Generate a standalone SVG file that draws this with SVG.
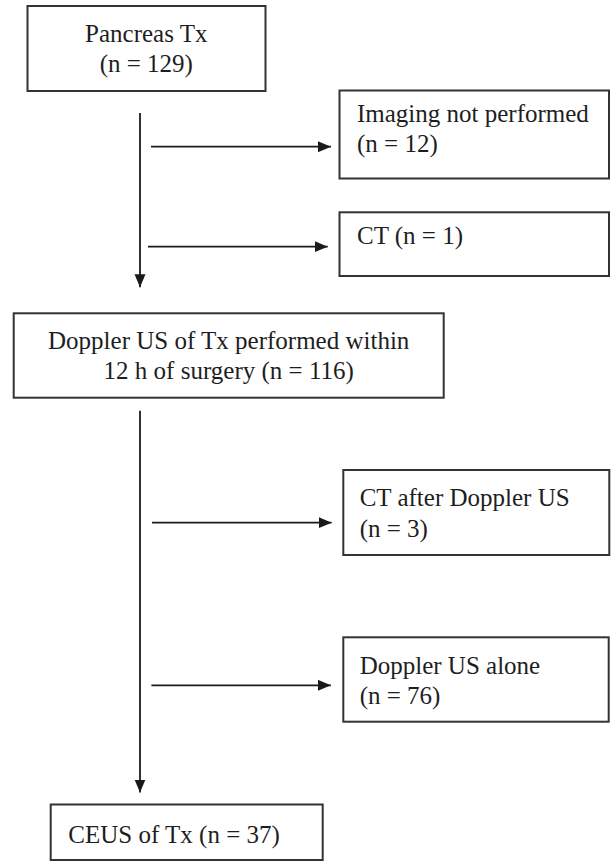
<svg xmlns="http://www.w3.org/2000/svg" width="611" height="861" viewBox="0 0 611 861">
  <style>
    .box { fill: #ffffff; stroke: #333333; stroke-width: 2; }
    .lbl { font-family: "Liberation Serif", "Times New Roman", serif; font-size: 25px; fill: #1e1e1e; }
    .mid { text-anchor: middle; }
    .conn { stroke: #1a1a1a; stroke-width: 1.8; fill: none; marker-end: url(#arrow); }
  </style>
  <defs>
    <marker id="arrow" markerUnits="userSpaceOnUse" markerWidth="14" markerHeight="12" refX="13" refY="5.5" orient="auto">
      <path d="M0,0 L13,5.5 L0,11 Z" fill="#1a1a1a"/>
    </marker>
  </defs>
  <rect x="0" y="0" width="611" height="861" fill="#ffffff"/>

  <g id="pancreas-tx">
    <rect class="box" x="27.5" y="6" width="238" height="85"/>
    <text class="lbl mid" x="146.3" y="41.7">Pancreas Tx</text>
    <text class="lbl mid" x="146.3" y="71.7">(n = 129)</text>
  </g>

  <g id="imaging-not-performed">
    <rect class="box" x="339.5" y="90.5" width="269.5" height="88"/>
    <text class="lbl" x="357" y="121.7">Imaging not performed</text>
    <text class="lbl" x="357" y="151.7">(n = 12)</text>
  </g>

  <g id="ct">
    <rect class="box" x="339.5" y="212.3" width="269.5" height="63.7"/>
    <text class="lbl" x="357" y="244">CT (n = 1)</text>
  </g>

  <g id="doppler-us">
    <rect class="box" x="13.7" y="313.3" width="430" height="84.4"/>
    <text class="lbl mid" x="228.7" y="349.3">Doppler US of Tx performed within</text>
    <text class="lbl mid" x="228.7" y="379.3">12 h of surgery (n = 116)</text>
  </g>

  <g id="ct-after-doppler">
    <rect class="box" x="343.3" y="470" width="266" height="85"/>
    <text class="lbl" x="359.7" y="506">CT after Doppler US</text>
    <text class="lbl" x="359.7" y="536.7">(n = 3)</text>
  </g>

  <g id="doppler-alone">
    <rect class="box" x="343.3" y="637.3" width="265.4" height="84.4"/>
    <text class="lbl" x="359.7" y="674">Doppler US alone</text>
    <text class="lbl" x="359.7" y="704">(n = 76)</text>
  </g>

  <g id="ceus">
    <rect class="box" x="50.7" y="804.5" width="272" height="55.5"/>
    <text class="lbl" x="68.3" y="843.3">CEUS of Tx (n = 37)</text>
  </g>

  <g id="connectors">
    <line class="conn" x1="140" y1="113" x2="140" y2="287.3"/>
    <line class="conn" x1="151" y1="146.7" x2="331" y2="146.7"/>
    <line class="conn" x1="148" y1="246.7" x2="327.7" y2="246.7"/>
    <line class="conn" x1="140" y1="410.7" x2="140" y2="792.5"/>
    <line class="conn" x1="152" y1="522.7" x2="331.6" y2="522.7"/>
    <line class="conn" x1="151.4" y1="685.3" x2="330.9" y2="685.3"/>
  </g>
</svg>
